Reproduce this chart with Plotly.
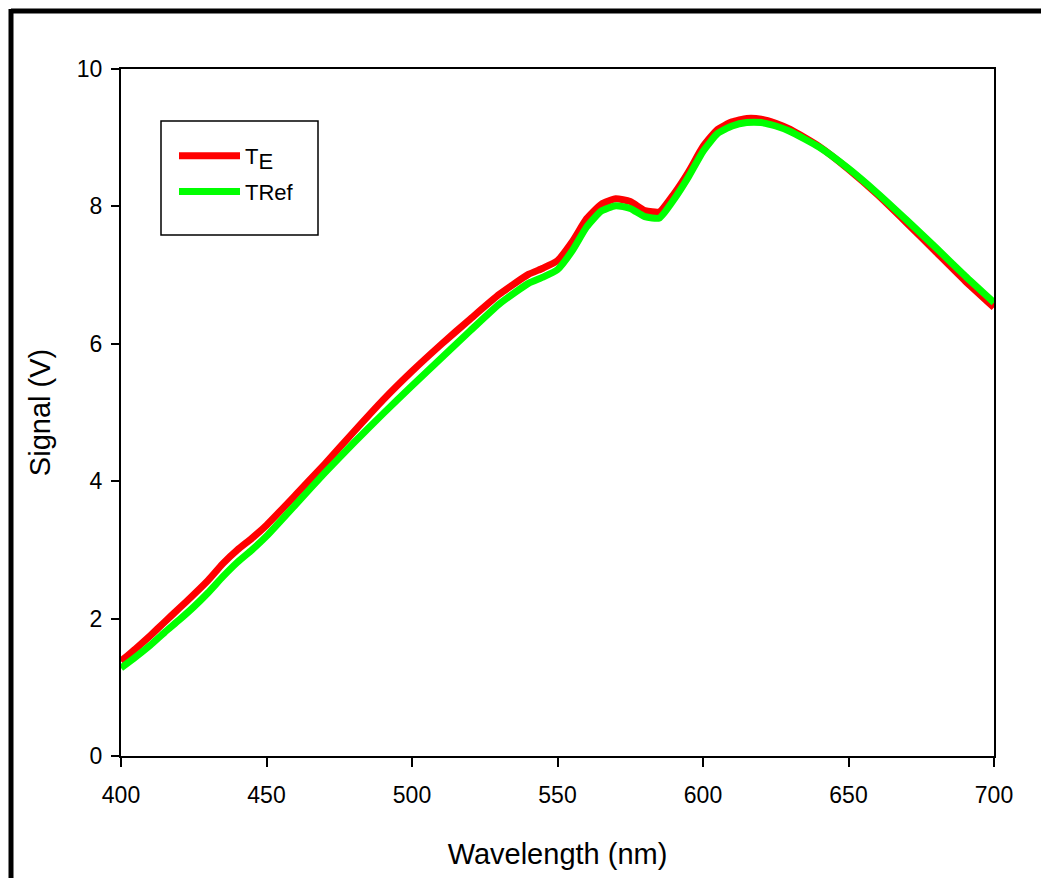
import plotly.graph_objects as go

wavelength = [400, 405, 410, 415, 420, 425, 430, 435, 440, 445, 450, 460, 470, 480, 490,
              500, 510, 520, 530, 540, 545, 550, 555, 560, 565, 570, 575, 580, 585, 590,
              595, 600, 605, 610, 615, 620, 625, 630, 640, 650, 660, 670, 680, 690, 700]

signal_te = [1.38, 1.56, 1.75, 1.95, 2.15, 2.35, 2.56, 2.80, 3.00, 3.17, 3.36, 3.80, 4.25, 4.72, 5.18,
             5.60, 5.99, 6.36, 6.72, 7.01, 7.10, 7.21, 7.48, 7.82, 8.03, 8.11, 8.07, 7.94, 7.92, 8.18,
             8.50, 8.87, 9.12, 9.23, 9.28, 9.27, 9.21, 9.12, 8.87, 8.54, 8.17, 7.76, 7.34, 6.92, 6.53]

signal_ref = [1.28, 1.44, 1.61, 1.80, 1.98, 2.17, 2.38, 2.61, 2.82, 3.00, 3.20, 3.66, 4.12, 4.56, 4.98,
              5.39, 5.79, 6.19, 6.58, 6.88, 6.97, 7.08, 7.35, 7.70, 7.93, 8.01, 7.97, 7.85, 7.83, 8.10,
              8.43, 8.80, 9.06, 9.17, 9.22, 9.22, 9.17, 9.09, 8.86, 8.55, 8.19, 7.80, 7.40, 6.99, 6.60]

x_ticks = [400, 450, 500, 550, 600, 650, 700]
y_ticks = [0, 2, 4, 6, 8, 10]

W, H = 1041, 878
L, R, T, B = 121, 994, 69, 756
pw, ph = R - L, B - T

def px(x):
    return (x - L) / pw

def py(y):
    return (B - y) / ph

fig = go.Figure()
fig.add_trace(go.Scatter(x=wavelength, y=signal_te, mode="lines", legendgroup="te",
                         name="T<sub><span style='font-size:22px'>E</span></sub>",
                         line=dict(color="#FF0000", width=7, shape="spline", smoothing=0.5)))
fig.add_trace(go.Scatter(x=wavelength, y=signal_ref, mode="lines", name="TRef", legendgroup="ref",
                         line=dict(color="#00FF00", width=7, shape="spline", smoothing=0.5)))

font_family = "Liberation Sans, Arial, sans-serif"

fig.update_layout(
    width=W, height=H,
    margin=dict(l=L, r=W - R, t=T, b=H - B),
    paper_bgcolor="white", plot_bgcolor="white",
    font=dict(family=font_family, color="black", size=20),
    showlegend=True,
    legend=dict(x=px(174), y=py(135), xanchor="left", yanchor="top",
                bgcolor="rgba(0,0,0,0)", borderwidth=0, itemwidth=61,
                traceorder="grouped", tracegroupgap=4,
                font=dict(size=22, family=font_family)),
    xaxis=dict(range=[400, 700], tickvals=x_ticks, ticks="outside", ticklen=9, tickwidth=2,
               tickcolor="black", showline=True, linecolor="black", linewidth=2, mirror=True,
               showgrid=False, zeroline=False, tickfont=dict(size=23), ticklabelstandoff=8,
               title=dict(text="Wavelength (nm)", font=dict(size=29), standoff=37)),
    yaxis=dict(range=[0, 10], tickvals=y_ticks, ticks="outside", ticklen=8, tickwidth=2,
               tickcolor="black", showline=True, linecolor="black", linewidth=2, mirror=True,
               showgrid=False, zeroline=False, tickfont=dict(size=23), ticklabelstandoff=4,
               title=dict(text="Signal (V)", font=dict(size=29), standoff=18)),
    shapes=[
        # legend box
        dict(type="rect", xref="paper", yref="paper", x0=px(161), x1=px(318), y0=py(235), y1=py(121),
             line=dict(color="black", width=1.5), fillcolor="rgba(0,0,0,0)"),
        # outer frame
        dict(type="line", xref="paper", yref="paper", x0=px(11), x1=px(1045), y0=py(11), y1=py(11),
             line=dict(color="black", width=5)),
        dict(type="line", xref="paper", yref="paper", x0=px(11), x1=px(11), y0=py(9), y1=py(885),
             line=dict(color="black", width=5)),
    ],
)

fig.write_html("out.html")
